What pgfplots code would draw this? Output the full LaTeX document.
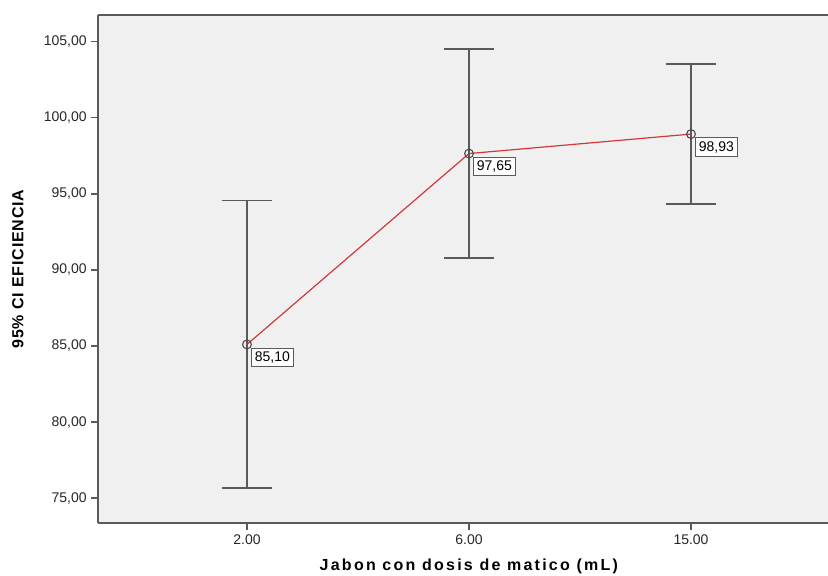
\documentclass[border=0pt]{standalone}
\usepackage{fontspec}
\setmainfont{Liberation Sans}
\newfontfamily\xlabfont[LetterSpace=14]{Liberation Sans}
\newfontfamily\ylabfont[LetterSpace=5]{Liberation Sans}
\usepackage{pgfplots}
\pgfplotsset{compat=1.18}
\definecolor{bg}{HTML}{F0F0F0}
\definecolor{fr}{HTML}{5A5A5A}
\definecolor{ln}{HTML}{D0383C}
\begin{document}
\begin{tikzpicture}
\begin{axis}[
  name=ax,
  scale only axis, width=547.5pt, height=381pt,
  xmin=0.329, xmax=3.617, ymin=73.36, ymax=106.76,
  axis x line=box, axis y line=left,
  axis line style={-, draw=fr, line width=1.1pt},
  axis background/.style={fill=bg},
  xtick={1,2,3}, xticklabels={2.00,6.00,15.00},
  xtick pos=left, xticklabel pos=left,
  ytick={75,80,...,105},
  tick align=outside, major tick length=5pt,
  tick style={draw=fr, line width=1pt},
  /pgf/number format/assume math mode=true,
  /pgf/number format/.cd, fixed, fixed zerofill, precision=2, use comma, /pgfplots/.cd,
  ticklabel style={font=\fontsize{10.5}{12}\selectfont, text=black!85},
  xlabel={Jabon con dosis de matico (mL)},
  ylabel={95\% CI EFICIENCIA},
  xlabel style={font=\xlabfont\bfseries\fontsize{12}{14}\selectfont, at={(axis description cs:0.508,-0.0846)}, anchor=center},
  ylabel style={font=\ylabfont\bfseries\fontsize{12}{14}\selectfont, at={(axis description cs:-0.1096,0.5)}, anchor=center},
  clip=false,
]
\addplot[draw=ln, line width=0.9pt, mark=o, mark size=3.3pt,
  mark options={draw=fr!80!black, line width=0.8pt},
  nodes near coords,
  nodes near coords style={anchor=north west, xshift=3pt, yshift=-2.5pt, draw=fr, fill=white,
    line width=0.6pt, inner sep=2.6pt, font=\fontsize{10.5}{12}\selectfont, text=black},
  error bars/.cd, y dir=both, y explicit,
  error bar style={draw=fr, line width=1.05pt},
  error mark options={draw=fr, line width=1.05pt, mark size=19pt, rotate=90}]
  coordinates { (1,85.10) +- (0,9.45) (2,97.65) +- (0,6.87) (3,98.93) +- (0,4.60) };
\end{axis}
\pgfresetboundingbox
\path[use as bounding box] ([xshift=-73.5pt,yshift=-39pt]ax.south west) rectangle ([yshift=11.25pt]ax.north east);
\end{tikzpicture}
\end{document}
